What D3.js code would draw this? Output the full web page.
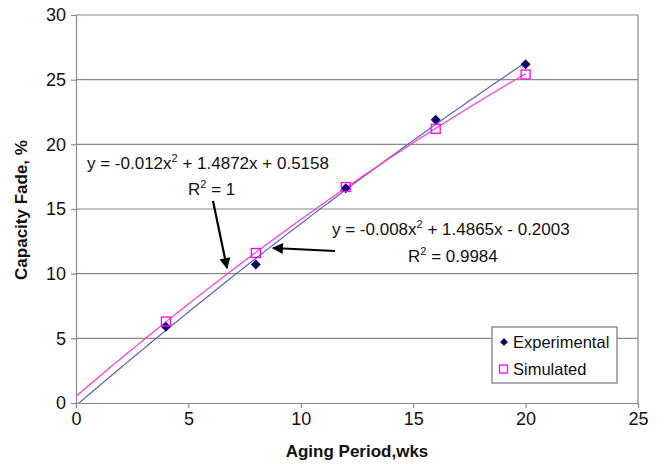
<!DOCTYPE html>
<html>
<head>
<meta charset="utf-8">
<script src="https://cdn.jsdelivr.net/npm/d3@7"></script>
<style>
  html, body { margin: 0; padding: 0; background: #fff; }
  svg text { font-family: "Liberation Sans", Arial, sans-serif; }
</style>
</head>
<body>
<svg id="chart" width="664" height="464"></svg>
<script>
// Aging period (weeks) and capacity fade (%)
const weeks = [4, 8, 12, 16, 20];
const experimental = [5.9, 10.7, 16.6, 21.9, 26.2];
const simulated = [6.3, 11.6, 16.7, 21.2, 25.4];
const xTicks = [0, 5, 10, 15, 20, 25];
const yTicks = [0, 5, 10, 15, 20, 25, 30];
// Second-order polynomial trendlines [a, b, c] for a*x^2 + b*x + c
const expFit = [-0.008, 1.4865, -0.2003];
const simFit = [-0.012, 1.4872, 0.5158];

const svg = d3.select("#chart");
const plotLeft = 76, plotRight = 638, plotTop = 15, plotBottom = 403;

const x = d3.scaleLinear().domain([0, 25]).range([plotLeft, plotRight]);
const y = d3.scaleLinear().domain([0, 30]).range([plotBottom, plotTop]);

const gridColor = "#8a8a8a";

// horizontal gridlines
svg.append("g").selectAll("line").data(yTicks.filter(d => d > 0)).join("line")
  .attr("x1", plotLeft).attr("x2", plotRight)
  .attr("y1", d => y(d)).attr("y2", d => y(d))
  .attr("stroke", gridColor).attr("stroke-width", 1.2);

// right border
svg.append("line").attr("x1", plotRight).attr("x2", plotRight).attr("y1", plotTop).attr("y2", plotBottom)
  .attr("stroke", gridColor).attr("stroke-width", 1.2);

// axes
const xAxis = svg.append("g").attr("transform", `translate(0,${plotBottom})`)
  .call(d3.axisBottom(x).tickValues(xTicks).tickSize(5).tickPadding(4));
const yAxis = svg.append("g").attr("transform", `translate(${plotLeft},0)`)
  .call(d3.axisLeft(y).tickValues(yTicks).tickSize(5).tickPadding(5));
[xAxis, yAxis].forEach(g => {
  g.select(".domain").attr("stroke", gridColor).attr("stroke-width", 1.2);
  g.selectAll(".tick line").attr("stroke", gridColor).attr("stroke-width", 1.2);
  g.selectAll(".tick text").attr("fill", "#111").attr("font-size", 18)
    .style("font-family", '"Liberation Sans", Arial, sans-serif');
});

// trendlines, clipped to the plot area
svg.append("clipPath").attr("id", "plot").append("rect")
  .attr("x", plotLeft).attr("y", plotTop).attr("width", plotRight - plotLeft).attr("height", plotBottom - plotTop);

function curve(c) {
  const pts = d3.range(0, 20.001, 0.25).map(t => [t, c[0] * t * t + c[1] * t + c[2]]);
  return d3.line().x(d => x(d[0])).y(d => y(d[1]))(pts);
}
svg.append("path").attr("d", curve(expFit)).attr("clip-path", "url(#plot)")
  .attr("fill", "none").attr("stroke", "#5866aa").attr("stroke-width", 1.2);
svg.append("path").attr("d", curve(simFit)).attr("clip-path", "url(#plot)")
  .attr("fill", "none").attr("stroke", "#ff33dd").attr("stroke-width", 1.2);

// markers: filled diamonds (experimental), open squares (simulated)
const diamondPath = r => `M0,${-r}L${r},0L0,${r}L${-r},0Z`;
svg.append("g").selectAll("path").data(weeks).join("path")
  .attr("d", diamondPath(5))
  .attr("transform", (d, i) => `translate(${x(d)},${y(experimental[i])})`)
  .attr("fill", "#0b0b6e");
svg.append("g").selectAll("rect").data(weeks).join("rect")
  .attr("x", d => x(d) - 4.5).attr("y", (d, i) => y(simulated[i]) - 4.5)
  .attr("width", 9).attr("height", 9)
  .attr("fill", "none").attr("stroke", "#ff00ff").attr("stroke-width", 1.3);

// trendline equations
const eq = svg.append("g").attr("font-size", 17).attr("fill", "#111");
function equation(px, py, parts) {
  const t = eq.append("text").attr("x", px).attr("y", py);
  t.append("tspan").text(parts[0]);
  t.append("tspan").text("2").attr("font-size", 11).attr("dy", -7);
  t.append("tspan").text(parts[1]).attr("dy", 7);
}
equation(87, 169, ["y = -0.012x", " + 1.4872x + 0.5158"]);
equation(188, 195, ["R", " = 1"]);
equation(332, 235, ["y = -0.008x", " + 1.4865x - 0.2003"]);
equation(408, 262, ["R", " = 0.9984"]);

// arrows
svg.append("defs").append("marker").attr("id", "head")
  .attr("viewBox", "0 0 10 10").attr("refX", 9).attr("refY", 5)
  .attr("markerWidth", 5.5).attr("markerHeight", 5).attr("orient", "auto")
  .attr("markerUnits", "strokeWidth")
  .append("path").attr("d", "M0,0 L10,5 L0,10 Z").attr("fill", "#000");
svg.append("line").attr("x1", 213).attr("y1", 201).attr("x2", 227).attr("y2", 268)
  .attr("stroke", "#000").attr("stroke-width", 2.2).attr("marker-end", "url(#head)");
svg.append("line").attr("x1", 335).attr("y1", 251).attr("x2", 273).attr("y2", 248)
  .attr("stroke", "#000").attr("stroke-width", 2.2).attr("marker-end", "url(#head)");

// legend
const lg = svg.append("g");
lg.append("rect").attr("x", 492).attr("y", 327).attr("width", 125).attr("height", 56)
  .attr("fill", "#fff").attr("stroke", "#777").attr("stroke-width", 1.2);
lg.append("path").attr("d", diamondPath(4)).attr("transform", "translate(504,342)").attr("fill", "#0b0b6e");
lg.append("rect").attr("x", 499.5).attr("y", 365).attr("width", 8).attr("height", 8)
  .attr("fill", "none").attr("stroke", "#ff00ff").attr("stroke-width", 1.3);
lg.append("text").attr("x", 513).attr("y", 348).attr("font-size", 16.5).attr("fill", "#111").text("Experimental");
lg.append("text").attr("x", 513).attr("y", 375).attr("font-size", 16.5).attr("fill", "#111").text("Simulated");

// axis titles
svg.append("text").attr("x", 357).attr("y", 457).attr("text-anchor", "middle")
  .attr("font-size", 17).attr("font-weight", "bold").attr("fill", "#111").text("Aging Period,wks");
svg.append("text").attr("transform", "translate(27,210) rotate(-90)").attr("text-anchor", "middle")
  .attr("font-size", 17).attr("font-weight", "bold").attr("fill", "#111").text("Capacity Fade, %");
</script>
</body>
</html>
